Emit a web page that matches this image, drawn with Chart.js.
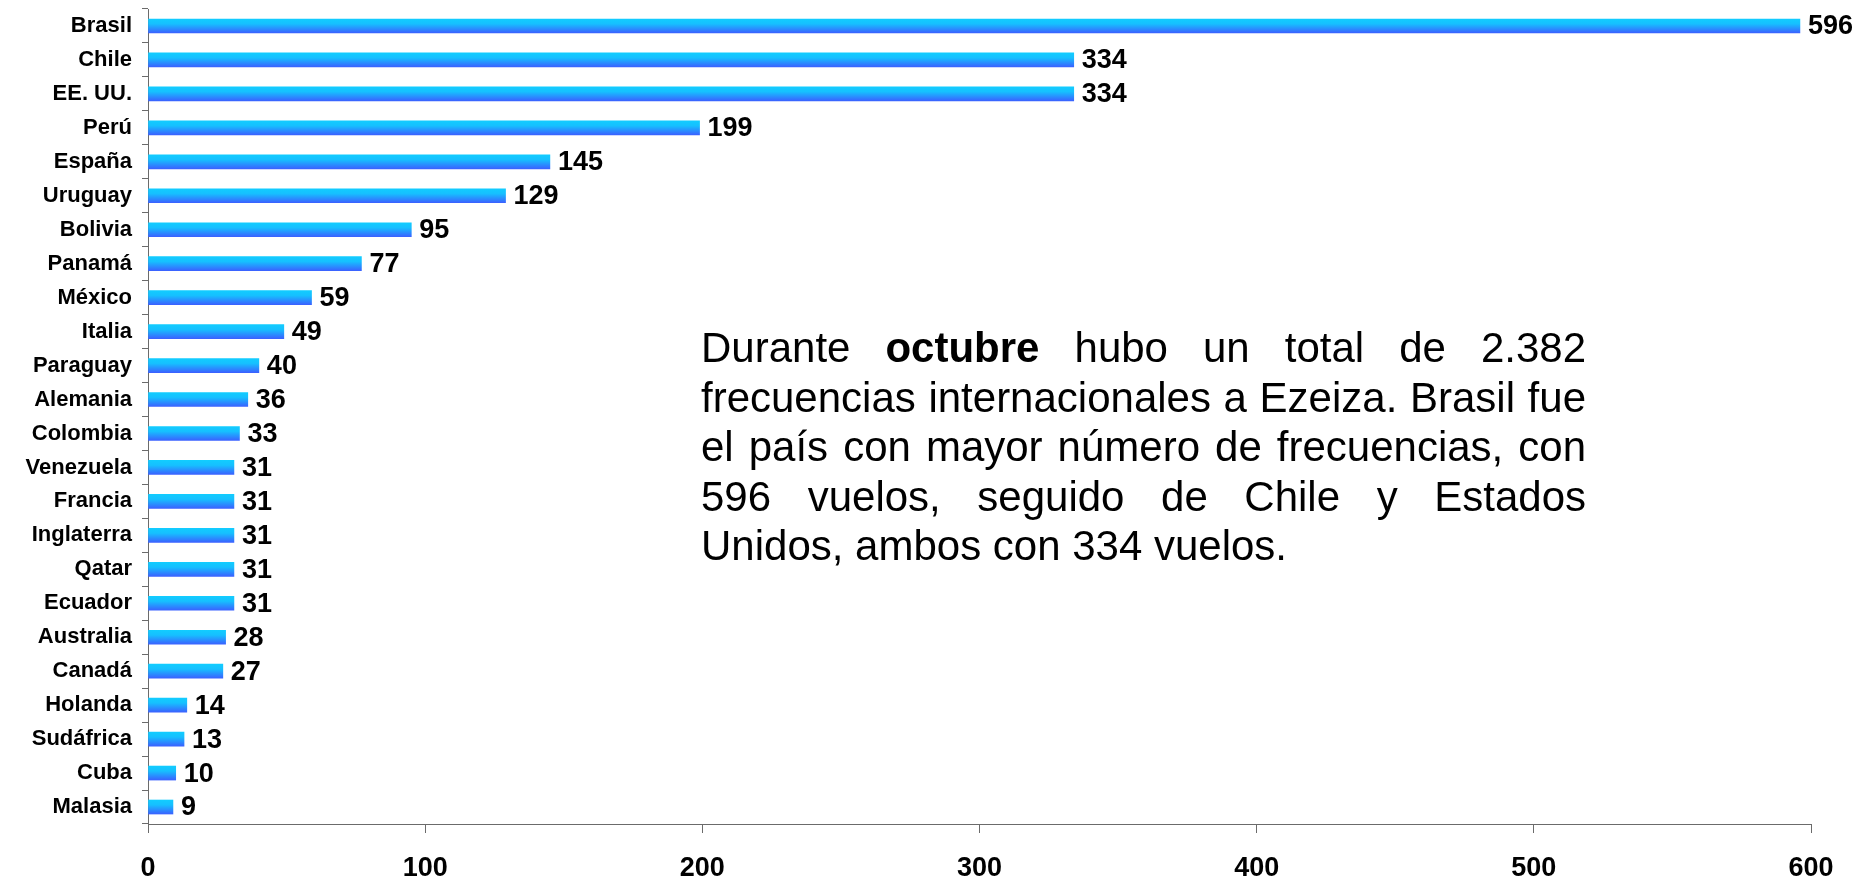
<!DOCTYPE html>
<html lang="es">
<head>
<meta charset="utf-8">
<title>Frecuencias internacionales a Ezeiza - octubre</title>
<script src="https://cdn.jsdelivr.net/npm/chart.js@4.4.1/dist/chart.umd.min.js"></script>
<style>
    html, body { margin: 0; padding: 0; background: #ffffff; }
    #wrap { position: relative; width: 1870px; height: 880px; }
    #note {
        position: absolute;
        left: 701px;
        top: 323px;
        width: 885px;
        font-family: "Liberation Sans", Arial, Helvetica, sans-serif;
        font-size: 42px;
        line-height: 49.5px;
        color: #000;
    }
    #note .ln { text-align: justify; text-align-last: justify; white-space: nowrap; }
    #note .ln.last { text-align-last: left; }
</style>
</head>
<body>
<div id="wrap">
    <canvas id="flightsChart" width="1870" height="880"></canvas>
    <div id="note">
        <div class="ln">Durante <b>octubre</b> hubo un total de 2.382</div>
        <div class="ln">frecuencias internacionales a Ezeiza. Brasil fue</div>
        <div class="ln">el país con mayor número de frecuencias, con</div>
        <div class="ln">596 vuelos, seguido de Chile y Estados</div>
        <div class="ln last">Unidos, ambos con 334 vuelos.</div>
    </div>
</div>

<script>
// Frecuencias internacionales por país (octubre)
const countries = ['Brasil', 'Chile', 'EE. UU.', 'Perú', 'España', 'Uruguay', 'Bolivia', 'Panamá',
    'México', 'Italia', 'Paraguay', 'Alemania', 'Colombia', 'Venezuela', 'Francia', 'Inglaterra',
    'Qatar', 'Ecuador', 'Australia', 'Canadá', 'Holanda', 'Sudáfrica', 'Cuba', 'Malasia'];
const flights = [596, 334, 334, 199, 145, 129, 95, 77, 59, 49, 40, 36, 33, 31, 31, 31, 31, 31, 28, 27, 14, 13, 10, 9];
const xTickMin = 0;
const xTickMax = 600;
const xTickStep = 100;

const fontFamily = '"Liberation Sans", Arial, Helvetica, sans-serif';
const axisGray = '#6b6b6b';
const BAR_H = 14;

// vertical cyan -> blue gradient per bar
function barGradient(context) {
    const chart = context.chart;
    const yScale = chart.scales.y;
    if (!yScale || !chart.chartArea || context.type !== 'data') return '#1ea8ff';
    const yc = yScale.getPixelForValue(context.dataIndex);
    if (!isFinite(yc)) return '#1ea8ff';
    const g = chart.ctx.createLinearGradient(0, yc - BAR_H / 2, 0, yc + BAR_H / 2);
    g.addColorStop(0, '#12ccff');
    g.addColorStop(0.35, '#16c0ff');
    g.addColorStop(1, '#3a62ff');
    return g;
}

// value labels at the end of each bar
const valueLabels = {
    id: 'valueLabels',
    afterDatasetsDraw(chart) {
        const ctx = chart.ctx;
        const meta = chart.getDatasetMeta(0);
        ctx.save();
        ctx.font = 'bold 27px ' + fontFamily;
        ctx.fillStyle = '#000';
        ctx.textAlign = 'left';
        ctx.textBaseline = 'middle';
        meta.data.forEach((bar, i) => {
            ctx.fillText(String(chart.data.datasets[0].data[i]), bar.x + 8, bar.y + 1);
        });
        ctx.restore();
    }
};

document.addEventListener('DOMContentLoaded', () => {
    const chartCtx = document.getElementById('flightsChart');
    new Chart(chartCtx, {
        type: 'bar',
        data: {
            labels: countries,
            datasets: [{
                label: 'Frecuencias',
                data: flights,
                backgroundColor: barGradient,
                borderWidth: 0,
                barThickness: BAR_H
            }]
        },
        options: {
            indexAxis: 'y',
            responsive: false,
            animation: false,
            layout: {
                padding: { top: 9, right: 59, bottom: 0, left: 0 }
            },
            scales: {
                x: {
                    min: xTickMin,
                    max: xTickMax,
                    ticks: {
                        stepSize: xTickStep,
                        color: '#000',
                        padding: 19,
                        font: { family: fontFamily, size: 27, weight: 'bold' }
                    },
                    grid: {
                        drawOnChartArea: false,
                        drawTicks: true,
                        tickLength: 9,
                        color: axisGray
                    },
                    border: { color: axisGray, width: 1 },
                    afterFit(scale) { scale.height = 56; }
                },
                y: {
                    ticks: {
                        color: '#000',
                        padding: 10,
                        autoSkip: false,
                        font: { family: fontFamily, size: 22, weight: 'bold' }
                    },
                    grid: {
                        offset: true,
                        drawOnChartArea: false,
                        drawTicks: true,
                        tickLength: 6,
                        color: axisGray
                    },
                    border: { color: axisGray, width: 1 },
                    afterFit(scale) {
                        scale.width = 148;
                        scale.paddingTop = 0;
                        scale.paddingBottom = 0;
                    }
                }
            },
            plugins: {
                legend: { display: false },
                tooltip: { enabled: false }
            }
        },
        plugins: [valueLabels]
    });
});
</script>
</body>
</html>
